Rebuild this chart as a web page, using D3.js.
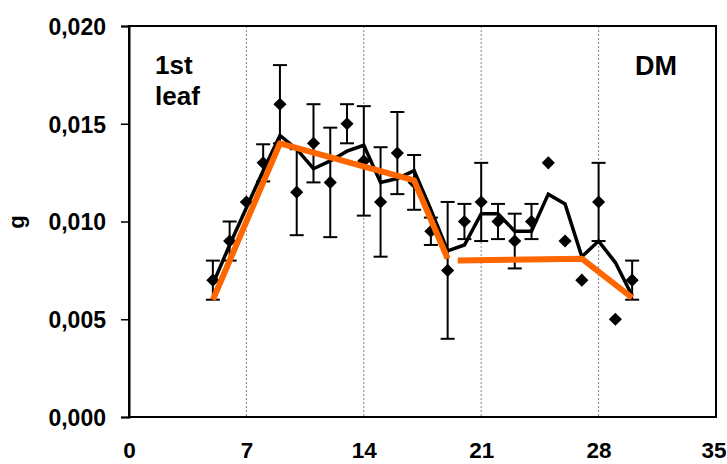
<!DOCTYPE html>
<html>
<head>
<meta charset="utf-8">
<script src="https://cdn.jsdelivr.net/npm/d3@7/dist/d3.min.js"></script>
<style>
html,body{margin:0;padding:0;background:#fff;}
svg{display:block;}
text{font-family:"Liberation Sans",Arial,sans-serif;font-weight:bold;fill:#000;}
</style>
</head>
<body>
<svg id="chart" width="727" height="464"></svg>
<script>
// Data
const days = [5,6,7,8,9,10,11,12,13,14,15,16,17,18,19,20,21,22,23,24,25,26,27,28,29,30];
const means = [0.0070,0.0090,0.0110,0.0130,0.0160,0.0115,0.0140,0.0120,0.0150,0.0131,0.0110,0.0135,0.0120,0.0095,0.0075,0.0100,0.0110,0.0100,0.0090,0.0100,0.0130,0.0090,0.0070,0.0110,0.0050,0.0070];
const errors = [0.0010,0.0010,0,0.00095,0.0020,0.0022,0.0020,0.0028,0.0010,0.0028,0.0028,0.0021,0.0014,0.0007,0.0035,0.0009,0.0020,0.0009,0.0014,0.0009,0,0,0,0.0020,0,0.0010];
const smooth = [0.0068,0.0088,0.0107,0.0126,0.0144,0.0137,0.0127,0.0131,0.0136,0.0139,0.0120,0.0122,0.0126,0.0106,0.0085,0.0088,0.0104,0.0104,0.0095,0.0095,0.0114,0.0109,0.0082,0.0090,0.0079,0.0062];
const fitA_x = [5,9,17,19];
const fitA_y = [0.0060,0.0140,0.0121,0.0081];
const fitB_x = [19.6,27,30];
const fitB_y = [0.0080,0.0081,0.0061];
const xTicks = [0,7,14,21,28,35];
const yTicks = [0,0.005,0.010,0.015,0.020];
const yTickLabels = ["0,000","0,005","0,010","0,015","0,020"];
const xGrid = [7,14,21,28];

const W=727, L=129, R=716, T=26, B=417;
const svg = d3.select("#chart");
const x = d3.scaleLinear().domain([0,35]).range([L,R]);
const y = d3.scaleLinear().domain([0,0.020]).range([B,T]);

// gridlines
svg.append("g").selectAll("line").data(xGrid).join("line")
  .attr("x1",d=>x(d)).attr("x2",d=>x(d)).attr("y1",T).attr("y2",B)
  .attr("stroke","#808080").attr("stroke-width",1).attr("stroke-dasharray","2,2");

// frame
svg.append("rect").attr("x",L).attr("y",T).attr("width",R-L).attr("height",B-T)
  .attr("fill","none").attr("stroke","#000").attr("stroke-width",2);

// y axis
const yAxis = d3.axisLeft(y).tickValues(yTicks).tickSize(8).tickPadding(0)
  .tickFormat((d,i)=>yTickLabels[i]);
const ga = svg.append("g").attr("transform",`translate(${L},0)`).call(yAxis);
ga.select(".domain").attr("stroke","#000").attr("stroke-width",2);
ga.selectAll(".tick line").attr("stroke","#000").attr("stroke-width",1.5);
ga.selectAll(".tick text").attr("x",-23).attr("dy","0.36em")
  .style("font-size","23px").style("font-family","'Liberation Sans',Arial,sans-serif").style("font-weight","bold").attr("fill","#000");

// x axis
const xAxis = d3.axisBottom(x).tickValues(xTicks).tickSize(0).tickPadding(0);
const gx = svg.append("g").attr("transform",`translate(0,${B})`).call(xAxis);
gx.select(".domain").remove();
gx.selectAll(".tick text").attr("y",41).attr("dy",0)
  .style("font-size","22.5px").style("font-family","'Liberation Sans',Arial,sans-serif").style("font-weight","bold").attr("fill","#000");
// keep the last label inside the picture
gx.selectAll(".tick").filter(d=>d===35).select("text")
  .attr("text-anchor","end").attr("x",(W-1)-x(35));

// y label
svg.append("text").attr("transform",`translate(24,222) rotate(-90)`)
  .attr("text-anchor","middle").style("font-size","22px").text("g");

// annotations
svg.append("text").attr("x",155).attr("y",74).style("font-size","26px").text("1st");
svg.append("text").attr("x",155).attr("y",105).style("font-size","26px").text("leaf");
svg.append("text").attr("x",635).attr("y",75).style("font-size","27px").text("DM");

const pts = days.map((d,i)=>({d, m:means[i], e:errors[i], s:smooth[i]}));

// error bars
const eb = svg.append("g").attr("stroke","#000").attr("stroke-width",2);
pts.filter(p=>p.e>0).forEach(p=>{
  eb.append("line").attr("x1",x(p.d)).attr("x2",x(p.d)).attr("y1",y(p.m+p.e)).attr("y2",y(p.m-p.e));
  [p.m+p.e,p.m-p.e].forEach(v=>{
    eb.append("line").attr("x1",x(p.d)-7).attr("x2",x(p.d)+7).attr("y1",y(v)).attr("y2",y(v));
  });
});

// smoothed black line
svg.append("path").datum(pts)
  .attr("d",d3.line().x(p=>x(p.d)).y(p=>y(p.s)))
  .attr("fill","none").attr("stroke","#000").attr("stroke-width",3.5).attr("stroke-linejoin","miter");

// diamonds
svg.append("g").selectAll("path").data(pts).join("path")
  .attr("transform",p=>`translate(${x(p.d)},${y(p.m)})`)
  .attr("d",d3.symbol().type(d3.symbolDiamond2).size(110))
  .attr("fill","#000");

// orange fit lines
const ol = d3.line().x(d=>x(d[0])).y(d=>y(d[1]));
[[fitA_x,fitA_y],[fitB_x,fitB_y]].forEach(([xs,ys])=>{
  svg.append("path").datum(xs.map((v,i)=>[v,ys[i]]))
    .attr("d",ol).attr("fill","none").attr("stroke","#ff6600").attr("stroke-width",6).attr("stroke-linejoin","round");
});
</script>
</body>
</html>
